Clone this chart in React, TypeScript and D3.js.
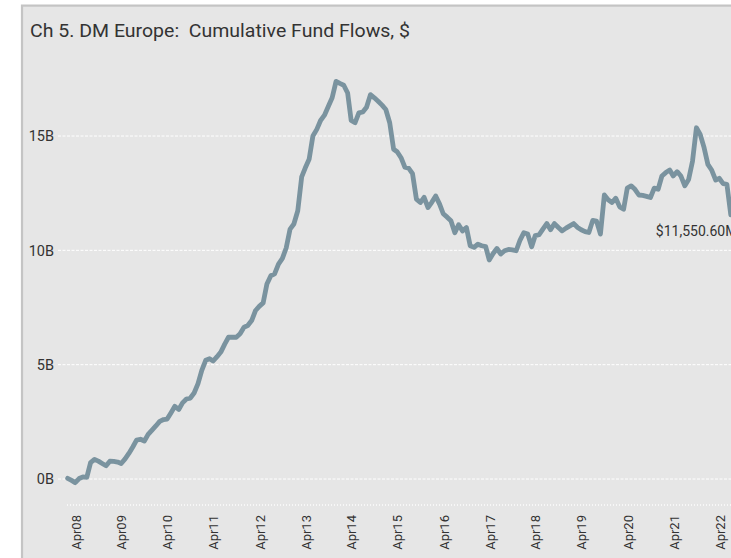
import React from "react";
import * as d3 from "d3";

const TITLE = "Ch 5. DM Europe:  Cumulative Fund Flows, $";
const START_MONTH = "2008-01";
// cumulative flows, $B, monthly Jan 2008 .. Jun 2022
const flows2008 = [0.03, -0.06, -0.16, 0.02, 0.09, 0.07, 0.72, 0.86, 0.78, 0.68, 0.58, 0.78];
const flows2009 = [0.77, 0.74, 0.68, 0.88, 1.12, 1.4, 1.7, 1.74, 1.66, 1.95, 2.14, 2.32];
const flows2010 = [2.52, 2.6, 2.62, 2.9, 3.18, 3.04, 3.33, 3.5, 3.54, 3.76, 4.17, 4.75];
const flows2011 = [5.19, 5.26, 5.16, 5.35, 5.55, 5.9, 6.2, 6.2, 6.2, 6.35, 6.64, 6.71];
const flows2012 = [6.93, 7.37, 7.55, 7.7, 8.53, 8.89, 8.97, 9.4, 9.65, 10.1, 10.93, 11.15];
const flows2013 = [11.73, 13.21, 13.6, 13.98, 15.0, 15.29, 15.68, 15.91, 16.3, 16.67, 17.39, 17.3];
const flows2014 = [17.22, 16.88, 15.68, 15.58, 16.01, 16.05, 16.26, 16.81, 16.67, 16.52, 16.35, 16.16];
const flows2015 = [15.58, 14.42, 14.31, 14.05, 13.64, 13.59, 13.35, 12.24, 12.09, 12.32, 11.87, 12.1];
const flows2016 = [12.38, 12.02, 11.6, 11.45, 11.29, 10.77, 11.12, 10.85, 11.0, 10.2, 10.13, 10.27];
const flows2017 = [10.2, 10.16, 9.58, 9.86, 10.08, 9.84, 9.98, 10.04, 10.02, 9.98, 10.45, 10.77];
const flows2018 = [10.71, 10.16, 10.64, 10.68, 10.93, 11.17, 10.9, 11.17, 11.0, 10.85, 10.97, 11.07];
const flows2019 = [11.17, 11.0, 10.9, 10.82, 10.78, 11.31, 11.28, 10.71, 12.42, 12.21, 12.09, 12.28];
const flows2020 = [11.9, 11.8, 12.72, 12.82, 12.67, 12.42, 12.4, 12.36, 12.31, 12.72, 12.67, 13.25];
const flows2021 = [13.4, 13.51, 13.25, 13.44, 13.25, 12.82, 13.1, 13.9, 15.36, 15.07, 14.49, 13.76];
const flows2022 = [13.5, 13.07, 13.15, 12.92, 12.89, 11.5506];

const yTicks = [0, 5, 10, 15];
const yTickLabels = ["0B", "5B", "10B", "15B"];
const xTickMonth = 3; // April of each year

const values = [
  ...flows2008, ...flows2009, ...flows2010, ...flows2011, ...flows2012,
  ...flows2013, ...flows2014, ...flows2015, ...flows2016, ...flows2017,
  ...flows2018, ...flows2019, ...flows2020, ...flows2021, ...flows2022,
];

const FONT = "Roboto, 'Noto Sans', sans-serif";

export default function App() {
  const start = d3.timeParse("%Y-%m")(START_MONTH) as Date;
  const data = values.map((v, i) => ({ date: d3.timeMonth.offset(start, i), value: v }));
  const last = data[data.length - 1];

  const x = d3.scaleTime().domain([data[0].date, last.date]).range([67.65, 730.8]);
  const y = d3.scaleLinear().domain([0, 15]).range([479, 136]);

  const line = d3
    .line<{ date: Date; value: number }>()
    .x((d) => x(d.date))
    .y((d) => y(d.value));

  const xTicks = data.filter((d) => d.date.getMonth() === xTickMonth).map((d) => d.date);
  const fmt = d3.timeFormat("%b%y");
  const lastLabel = "$" + d3.format(",.2f")(last.value * 1000) + "M";

  return (
    <div style={{ position: "absolute", left: 0, top: 0, width: 731, height: 558, overflow: "hidden", background: "#fff" }}>
      <svg width={800} height={620} style={{ display: "block" }}>
        <rect x={22} y={5.6} width={790} height={620} fill="#e6e6e6" stroke="#c4c4c4" strokeWidth={2.2} />
        <text
          x={30}
          y={36.5}
          fontFamily={FONT}
          fontSize={19}
          fill="#333"
          textLength={380}
          lengthAdjust="spacingAndGlyphs"
          style={{ whiteSpace: "pre" }}
          xmlSpace="preserve"
        >
          {TITLE}
        </text>
        {yTicks.map((t, i) => (
          <g key={t}>
            <line x1={58} x2={800} y1={y(t)} y2={y(t)} stroke="#ffffff" strokeWidth={1} strokeDasharray="3,1.5" />
            <text x={54} y={y(t)} dy="0.36em" textAnchor="end" fontFamily={FONT} fontSize={14.5} fill="#333">
              {yTickLabels[i]}
            </text>
          </g>
        ))}
        <line x1={67} x2={800} y1={505} y2={505} stroke="#f7f7f7" strokeWidth={2} strokeDasharray="1,2" />
        {xTicks.map((t) => (
          <text
            key={t.toISOString()}
            transform={`translate(${x(t) + 1.4},515) rotate(-90)`}
            textAnchor="end"
            fontFamily={FONT}
            fontSize={13}
            fill="#333"
          >
            {fmt(t)}
          </text>
        ))}
        <path d={line(data) || ""} fill="none" stroke="#7a939f" strokeWidth={4.8} strokeLinejoin="round" strokeLinecap="round" />
        <text x={x(last.date) - 75} y={y(last.value) + 21} fontFamily={FONT} fontSize={14} fill="#333">
          {lastLabel}
        </text>
      </svg>
    </div>
  );
}
